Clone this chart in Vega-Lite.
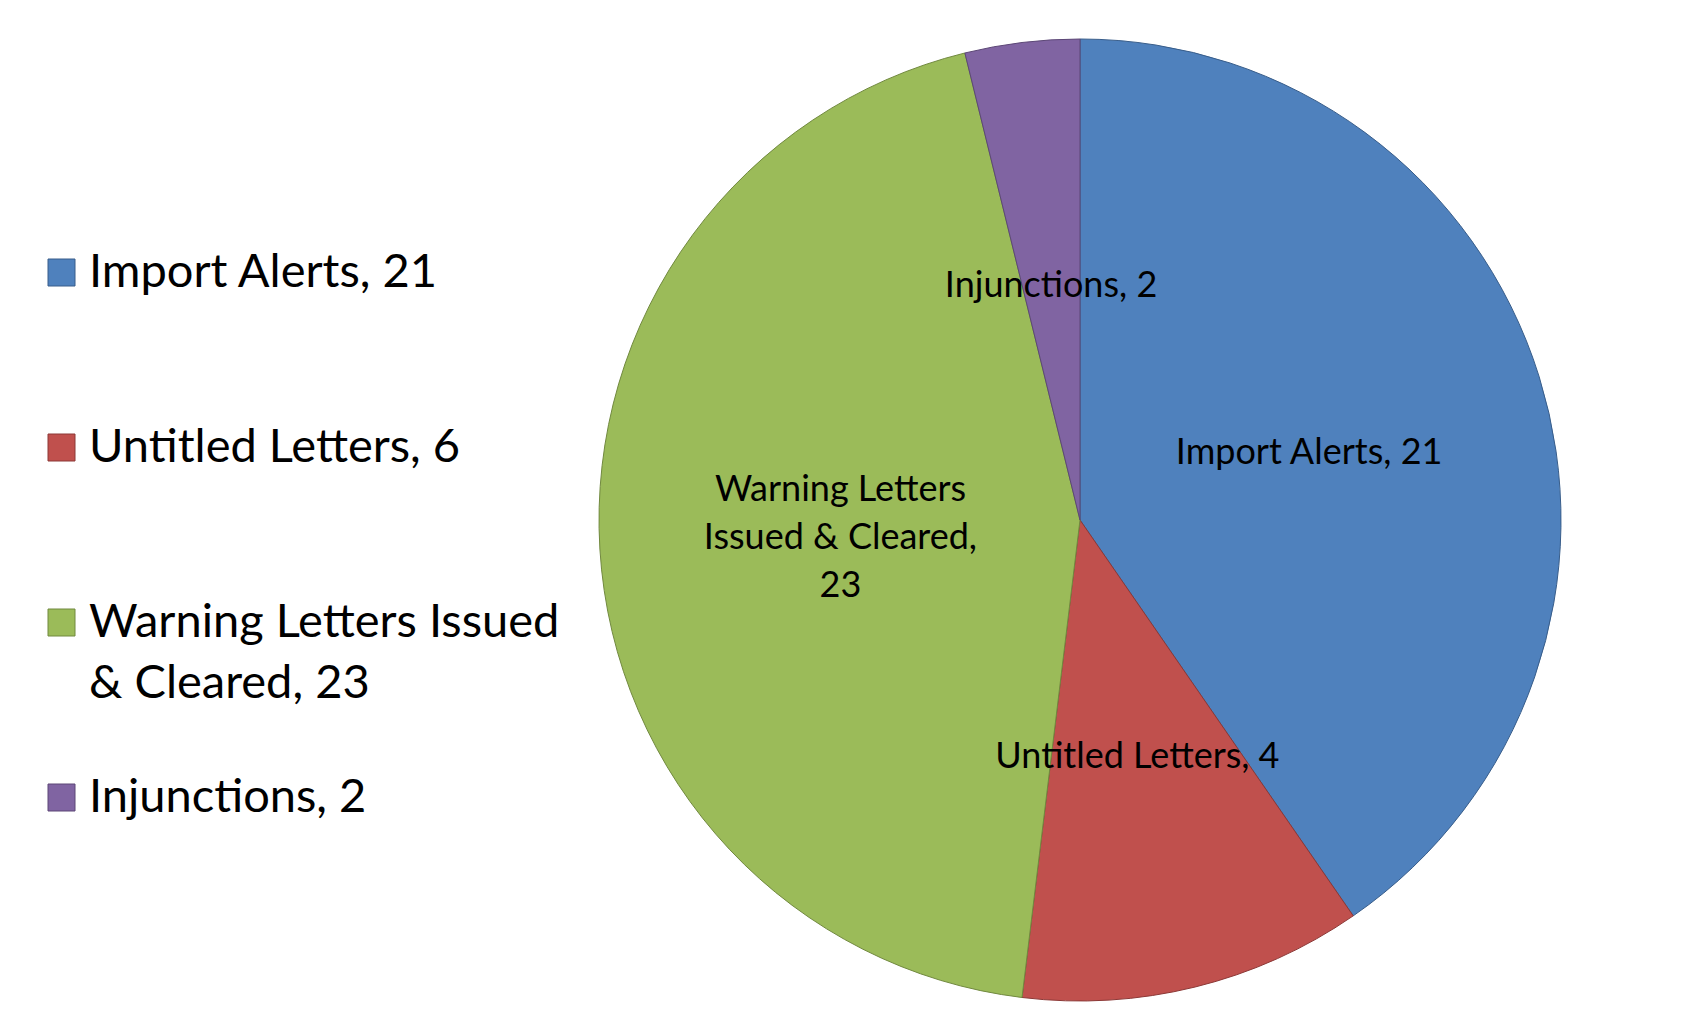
{
  "$schema": "https://vega.github.io/schema/vega-lite/v6.json",
  "width": 1224,
  "height": 1020,
  "padding": {"left": 468, "top": 10, "right": 0, "bottom": 0},
  "autosize": {"type": "none"},
  "background": "white",
  "config": {"view": {"stroke": null}, "font": "Lato"},
  "data": {
    "values": [
      {"category": "Import Alerts, 21", "label": "Import Alerts, 21", "value": 21, "order": 1},
      {"category": "Untitled Letters, 6", "label": "Untitled Letters, 4", "value": 6, "order": 2},
      {"category": "Warning Letters Issued & Cleared, 23", "label": "Warning Letters\nIssued & Cleared,\n23", "value": 23, "order": 3},
      {"category": "Injunctions, 2", "label": "Injunctions, 2", "value": 2, "order": 4}
    ]
  },
  "encoding": {
    "theta": {"field": "value", "type": "quantitative", "stack": true},
    "order": {"field": "order", "type": "quantitative"}
  },
  "layer": [
    {
      "mark": {"type": "arc", "outerRadius": 481, "strokeWidth": 1},
      "encoding": {
        "fill": {
          "field": "category", "type": "nominal",
          "scale": {
            "domain": ["Import Alerts, 21", "Untitled Letters, 6", "Warning Letters Issued & Cleared, 23", "Injunctions, 2"],
            "range": ["#4F81BD", "#C0504D", "#9BBB59", "#8064A2"]
          },
          "legend": {
            "title": null, "orient": "none", "legendX": -430, "legendY": 239, "direction": "vertical",
            "symbolType": "square", "symbolSize": 729, "symbolStrokeWidth": 1,
            "labelFontSize": 47, "labelFont": "Lato", "labelColor": "black", "labelOffset": 4,
            "rowPadding": 66, "labelLimit": 700, "padding": 0,
            "labelExpr": "datum.label == 'Warning Letters Issued & Cleared, 23' ? ['Warning Letters Issued', '& Cleared, 23'] : [datum.label, '']",
            "encode": {"labels": {"update": {"lineHeight": {"value": 61}}}}
          }
        },
        "stroke": {
          "field": "category", "type": "nominal",
          "scale": {
            "domain": ["Import Alerts, 21", "Untitled Letters, 6", "Warning Letters Issued & Cleared, 23", "Injunctions, 2"],
            "range": ["#385D8A", "#8C3836", "#71893F", "#5C4776"]
          },
          "legend": {
            "title": null, "orient": "none", "legendX": -430, "legendY": 239, "direction": "vertical",
            "symbolType": "square", "symbolSize": 729, "symbolStrokeWidth": 1,
            "labelFontSize": 47, "labelFont": "Lato", "labelColor": "black", "labelOffset": 4,
            "rowPadding": 66, "labelLimit": 700, "padding": 0,
            "labelExpr": "datum.label == 'Warning Letters Issued & Cleared, 23' ? ['Warning Letters Issued', '& Cleared, 23'] : [datum.label, '']",
            "encode": {"labels": {"update": {"lineHeight": {"value": 61}}}}
          }
        }
      }
    },
    {
      "mark": {"type": "text", "radius": 240, "fontSize": 36, "font": "Lato", "lineBreak": "\n", "lineHeight": 48, "color": "black", "align": "center", "baseline": "middle", "dy": 4},
      "encoding": {
        "text": {"condition": {"test": "datum.order == 3", "value": ""}, "field": "label", "type": "nominal"},
        "detail": {"field": "category", "type": "nominal"}
      }
    },
    {
      "mark": {"type": "text", "radius": 240, "fontSize": 36, "font": "Lato", "lineBreak": "\n", "lineHeight": 48, "color": "black", "align": "center", "baseline": "middle", "dy": -44},
      "encoding": {
        "text": {"condition": {"test": "datum.order != 3", "value": ""}, "field": "label", "type": "nominal"},
        "detail": {"field": "category", "type": "nominal"}
      }
    }
  ]
}
